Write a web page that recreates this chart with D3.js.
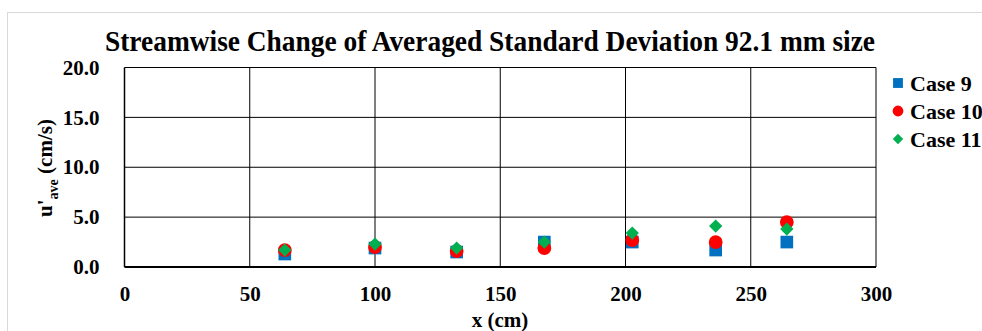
<!DOCTYPE html>
<html>
<head>
<meta charset="utf-8">
<script src="https://cdn.jsdelivr.net/npm/d3@7"></script>
<style>
  html, body { margin: 0; padding: 0; background: #fff; }
  svg { display: block; }
  .lbl { font-family: "Liberation Serif", "Times New Roman", Times, "DejaVu Serif", serif; font-weight: bold; fill: #000; }
</style>
</head>
<body>
<svg id="chart" width="982" height="331"></svg>
<script>
// Streamwise positions (cm) shared by all three cases
const xPositions = [64, 100, 132.6, 167.6, 202.7, 236, 264.4];

// Averaged standard deviation u'_ave (cm/s) for each case
const case9  = [1.3, 1.9, 1.5, 2.5, 2.5, 1.7, 2.5];
const case10 = [1.7, 2.0, 1.6, 1.9, 2.7, 2.5, 4.5];
const case11 = [1.7, 2.3, 1.9, 2.5, 3.4, 4.1, 3.8];

const xTicks = [0, 50, 100, 150, 200, 250, 300];
const yTicks = [0, 5, 10, 15, 20];

const series = [
  { name: "Case 9",  values: case9,  color: "#0070C0", shape: "square" },
  { name: "Case 10", values: case10, color: "#FF0000", shape: "circle" },
  { name: "Case 11", values: case11, color: "#00B050", shape: "diamond" }
];

const svg = d3.select("#chart");
const W = 982, H = 331;
const plot = { left: 124.5, right: 876, top: 67.5, bottom: 267 };

const x = d3.scaleLinear().domain([0, 300]).range([plot.left, plot.right]);
const y = d3.scaleLinear().domain([0, 20]).range([plot.bottom, plot.top]);

// Marker path builder: squares, circles, and squares turned 45° for diamonds
function marker(shape, scale) {
  const k = scale || 1;
  if (shape === "square") return d3.symbol().type(d3.symbolSquare).size(160 * k * k)();
  if (shape === "circle") return d3.symbol().type(d3.symbolCircle).size(150 * k * k)();
  return d3.symbol().type(d3.symbolSquare).size(88 * k * k)();
}
const markerRot = shape => (shape === "diamond" ? " rotate(45)" : "");

// Outer chart frame
svg.append("rect")
  .attr("x", 7.5).attr("y", 12.5)
  .attr("width", W).attr("height", H)
  .attr("fill", "#fff").attr("stroke", "#d9d9d9").attr("stroke-width", 1);

// Gridlines
const grid = svg.append("g");
grid.selectAll("line.h").data(yTicks.filter(d => d > 0)).join("line")
  .attr("x1", plot.left).attr("x2", plot.right)
  .attr("y1", d => y(d)).attr("y2", d => y(d))
  .attr("stroke", "#000").attr("stroke-width", 1);
grid.selectAll("line.v").data(xTicks.filter(d => d > 0)).join("line")
  .attr("x1", d => x(d)).attr("x2", d => x(d))
  .attr("y1", plot.top).attr("y2", plot.bottom)
  .attr("stroke", "#000").attr("stroke-width", 1);

// Axis lines
svg.append("line")
  .attr("x1", plot.left).attr("x2", plot.left)
  .attr("y1", plot.top).attr("y2", plot.bottom)
  .attr("stroke", "#000").attr("stroke-width", 1.5);
svg.append("line")
  .attr("x1", plot.left).attr("x2", plot.right)
  .attr("y1", plot.bottom).attr("y2", plot.bottom)
  .attr("stroke", "#000").attr("stroke-width", 2);

// Y tick labels
const yAxis = d3.axisLeft(y).tickValues(yTicks).tickFormat(d3.format(".1f")).tickSize(0).tickPadding(25);
const gy = svg.append("g").attr("transform", `translate(${plot.left},0)`).call(yAxis);
gy.select(".domain").remove();
gy.attr("font-family", null);
gy.selectAll("text").attr("class", "lbl").style("font-size", "21px");

// X tick labels
const xAxis = d3.axisBottom(x).tickValues(xTicks).tickFormat(d3.format("d")).tickSize(0).tickPadding(19);
const gx = svg.append("g").attr("transform", `translate(0,${plot.bottom})`).call(xAxis);
gx.select(".domain").remove();
gx.attr("font-family", null);
gx.selectAll("text").attr("class", "lbl").style("font-size", "21px");

// Title
svg.append("text").attr("class", "lbl")
  .attr("x", 490).attr("y", 51)
  .attr("text-anchor", "middle")
  .attr("textLength", 770).attr("lengthAdjust", "spacingAndGlyphs")
  .style("font-size", "29px")
  .text("Streamwise Change of Averaged Standard Deviation 92.1 mm size");

// Axis titles
svg.append("text").attr("class", "lbl")
  .attr("x", 500).attr("y", 327)
  .attr("text-anchor", "middle")
  .style("font-size", "21px")
  .text("x (cm)");

const yt = svg.append("text").attr("class", "lbl")
  .attr("transform", "translate(52,168) rotate(-90)")
  .attr("text-anchor", "middle")
  .style("font-size", "21px");
yt.append("tspan").text("u'");
yt.append("tspan").attr("dy", 6).style("font-size", "14px").text("ave");
yt.append("tspan").attr("dy", -6).text(" (cm/s)");

// Markers
series.forEach(s => {
  svg.append("g").selectAll("path").data(s.values).join("path")
    .attr("transform", (d, i) => `translate(${x(xPositions[i])},${y(d)})${markerRot(s.shape)}`)
    .attr("d", marker(s.shape))
    .attr("fill", s.color);
});

// Legend
const legend = svg.append("g").attr("transform", "translate(898,83)");
series.forEach((s, i) => {
  const row = legend.append("g").attr("transform", `translate(0,${i * 28})`);
  row.append("path")
    .attr("transform", markerRot(s.shape))
    .attr("d", marker(s.shape, 0.78))
    .attr("fill", s.color);
  row.append("text").attr("class", "lbl")
    .attr("x", 12).attr("y", 7.5)
    .style("font-size", "22px")
    .text(s.name);
});
</script>
</body>
</html>
